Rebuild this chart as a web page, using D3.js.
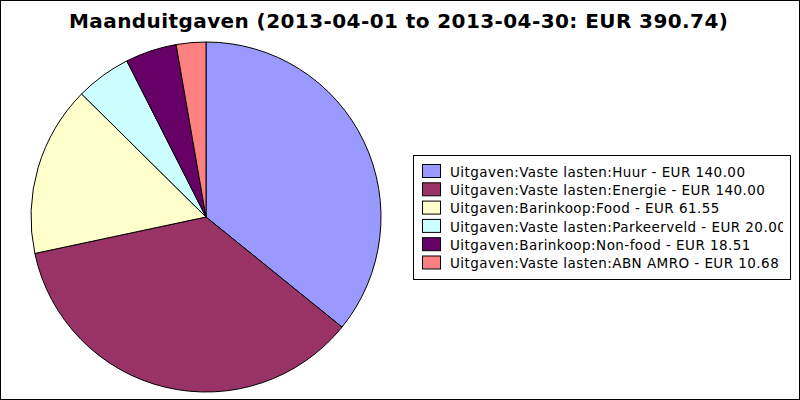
<!DOCTYPE html>
<html><head><meta charset="utf-8">
<script src="https://cdn.jsdelivr.net/npm/d3@7/dist/d3.min.js"></script>
<style>body{margin:0;background:#fff}svg{display:block}</style>
</head><body>
<svg id="c" width="800" height="400"></svg>
<script>
const categories = ["Uitgaven:Vaste lasten:Huur","Uitgaven:Vaste lasten:Energie","Uitgaven:Barinkoop:Food","Uitgaven:Vaste lasten:Parkeerveld","Uitgaven:Barinkoop:Non-food","Uitgaven:Vaste lasten:ABN AMRO"];
const values = [140.00, 140.00, 61.55, 20.00, 18.51, 10.68];
const colors = ["#9999ff","#993366","#ffffcc","#ccffff","#660066","#ff8080"];
const title = "Maanduitgaven (2013-04-01 to 2013-04-30: EUR 390.74)";

const svg = d3.select("#c");
svg.append("rect").attr("x",0.5).attr("y",0.5).attr("width",799).attr("height",399)
  .attr("fill","#fff").attr("stroke","#000");

svg.append("text").attr("x",398.7).attr("y",27.5).attr("text-anchor","middle")
  .attr("font-family","DejaVu Sans").attr("font-weight","bold").attr("font-size",20)
  .attr("letter-spacing",0.42)
  .text(title);

const data = categories.map((c,i)=>({c, v:values[i], col:colors[i]}));
const pie = d3.pie().value(d=>d.v).sort(null);
const arc = d3.arc().innerRadius(0).outerRadius(175);
const g = svg.append("g").attr("transform","translate(206,217)");
g.selectAll("path").data(pie(data)).join("path")
  .attr("d",arc).attr("fill",d=>d.data.col).attr("stroke","#000").attr("stroke-width",1);

const lg = svg.append("g");
const clip = svg.append("clipPath").attr("id","lc");
clip.append("rect").attr("x",413).attr("y",155).attr("width",370).attr("height",124);
lg.append("rect").attr("x",413.5).attr("y",155.5).attr("width",377).attr("height",124)
  .attr("fill","#fff").attr("stroke","#000");
const rows = lg.append("g").attr("clip-path","url(#lc)");
const y = d3.scalePoint().domain(d3.range(categories.length)).range([0, 91.5]);
data.forEach((d,i)=>{
  rows.append("rect").attr("x",422.5).attr("y",164.5+y(i)).attr("width",18).attr("height",13)
    .attr("fill",d.col).attr("stroke","#000");
  rows.append("text").attr("x",450).attr("y",176.7+y(i))
    .attr("font-family","DejaVu Sans").attr("font-size",13.5).attr("letter-spacing",0.45)
    .text(d.c+" - EUR "+d.v.toFixed(2));
});
</script>
</body></html>
